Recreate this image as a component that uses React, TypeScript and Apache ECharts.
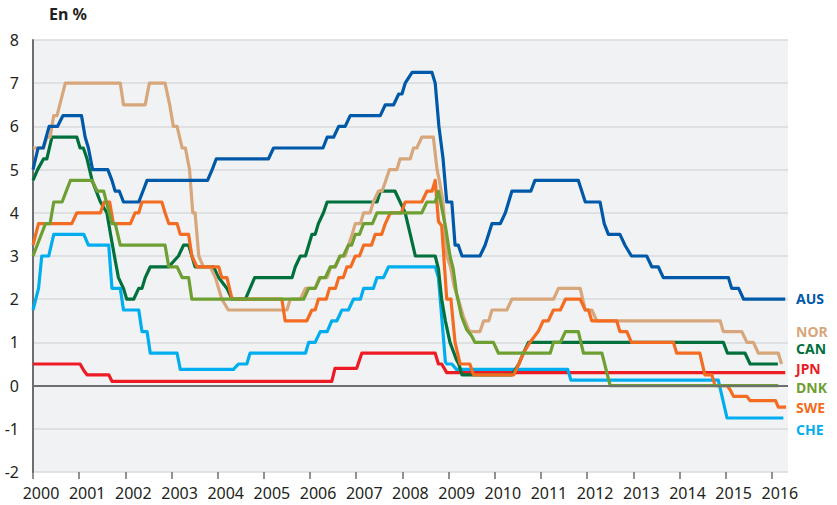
import React, { useEffect, useRef } from "react";
import * as echarts from "echarts";

const FONT = "'Noto Sans', 'Open Sans', sans-serif";

const YEARS = [2000, 2001, 2002, 2003, 2004, 2005, 2006, 2007, 2008, 2009, 2010, 2011, 2012, 2013, 2014, 2015, 2016];

const AUS: [number, number][] = [
  [2000.0, 5.0], [2000.11, 5.5], [2000.22, 5.5], [2000.35, 6.0], [2000.53, 6.0], [2000.65, 6.25], [2001.05, 6.25],
  [2001.13, 5.75], [2001.2, 5.5], [2001.29, 5.0], [2001.62, 5.0], [2001.71, 4.75], [2001.78, 4.5], [2001.87, 4.5],
  [2001.96, 4.25], [2002.29, 4.25], [2002.38, 4.5], [2002.47, 4.75], [2003.78, 4.75], [2003.88, 5.0], [2003.97, 5.25],
  [2005.1, 5.25], [2005.21, 5.5], [2006.28, 5.5], [2006.37, 5.75], [2006.51, 5.75], [2006.62, 6.0], [2006.76, 6.0],
  [2006.87, 6.25], [2007.52, 6.25], [2007.63, 6.5], [2007.81, 6.5], [2007.92, 6.75], [2007.99, 6.75], [2008.06, 7.0],
  [2008.21, 7.25], [2008.64, 7.25], [2008.71, 7.0], [2008.79, 6.0], [2008.88, 5.25], [2008.96, 4.25], [2009.07, 4.25],
  [2009.14, 3.25], [2009.21, 3.25], [2009.29, 3.0], [2009.68, 3.0], [2009.79, 3.25], [2009.94, 3.75], [2010.12, 3.75],
  [2010.23, 4.0], [2010.3, 4.25], [2010.37, 4.5], [2010.78, 4.5], [2010.87, 4.75], [2011.81, 4.75], [2011.96, 4.25],
  [2012.28, 4.25], [2012.37, 3.75], [2012.46, 3.5], [2012.71, 3.5], [2012.82, 3.25], [2012.96, 3.0], [2013.29, 3.0],
  [2013.4, 2.75], [2013.54, 2.75], [2013.65, 2.5], [2015.06, 2.5], [2015.13, 2.25], [2015.28, 2.25], [2015.39, 2.0],
  [2016.29, 2.0],
];

const NOR: [number, number][] = [
  [2000.0, 5.5], [2000.23, 5.5], [2000.3, 5.75], [2000.37, 5.75], [2000.45, 6.25], [2000.52, 6.25], [2000.7, 7.0],
  [2001.89, 7.0], [2001.96, 6.5], [2002.43, 6.5], [2002.52, 7.0], [2002.86, 7.0], [2002.96, 6.5], [2003.04, 6.0],
  [2003.12, 6.0], [2003.23, 5.5], [2003.3, 5.5], [2003.39, 5.0], [2003.46, 4.0], [2003.51, 4.0], [2003.59, 3.0],
  [2003.69, 2.75], [2003.84, 2.75], [2003.95, 2.5], [2004.09, 2.0], [2004.23, 1.75], [2005.5, 1.75], [2005.57, 2.0],
  [2005.79, 2.0], [2005.9, 2.25], [2006.11, 2.25], [2006.2, 2.5], [2006.37, 2.5], [2006.45, 2.75], [2006.55, 2.75],
  [2006.65, 3.0], [2006.76, 3.0], [2006.83, 3.25], [2006.91, 3.5], [2006.98, 3.75], [2007.09, 3.75], [2007.16, 4.0],
  [2007.3, 4.0], [2007.37, 4.25], [2007.48, 4.5], [2007.56, 4.5], [2007.64, 4.75], [2007.72, 5.0], [2007.88, 5.0],
  [2007.95, 5.25], [2008.17, 5.25], [2008.24, 5.5], [2008.31, 5.5], [2008.42, 5.75], [2008.67, 5.75], [2008.75, 5.0],
  [2008.8, 4.75], [2008.88, 4.25], [2008.96, 3.0], [2009.04, 2.75], [2009.12, 2.3], [2009.21, 2.0], [2009.32, 1.6],
  [2009.43, 1.3], [2009.47, 1.25], [2009.68, 1.25], [2009.76, 1.5], [2009.87, 1.5], [2009.94, 1.75], [2010.26, 1.75],
  [2010.37, 2.0], [2011.27, 2.0], [2011.38, 2.25], [2011.85, 2.25], [2011.96, 1.75], [2012.1, 1.75], [2012.21, 1.5],
  [2014.88, 1.5], [2014.95, 1.25], [2015.35, 1.25], [2015.46, 1.0], [2015.6, 1.0], [2015.71, 0.75], [2016.14, 0.75],
  [2016.21, 0.5],
];

const CAN: [number, number][] = [
  [2000.0, 4.75], [2000.1, 5.0], [2000.23, 5.25], [2000.3, 5.25], [2000.41, 5.75], [2000.95, 5.75], [2001.02, 5.5],
  [2001.09, 5.5], [2001.17, 5.25], [2001.28, 4.75], [2001.37, 4.5], [2001.46, 4.25], [2001.6, 4.0], [2001.68, 3.5],
  [2001.78, 2.9], [2001.85, 2.5], [2001.96, 2.25], [2002.03, 2.0], [2002.18, 2.0], [2002.29, 2.25], [2002.36, 2.25],
  [2002.43, 2.5], [2002.54, 2.75], [2002.94, 2.75], [2003.15, 3.0], [2003.26, 3.25], [2003.37, 3.25], [2003.44, 3.0],
  [2003.51, 2.75], [2003.91, 2.75], [2004.02, 2.5], [2004.2, 2.25], [2004.31, 2.0], [2004.6, 2.0], [2004.7, 2.25],
  [2004.8, 2.5], [2005.61, 2.5], [2005.68, 2.75], [2005.79, 3.0], [2005.9, 3.0], [2005.97, 3.25], [2006.04, 3.5],
  [2006.11, 3.5], [2006.18, 3.75], [2006.29, 4.0], [2006.37, 4.25], [2007.45, 4.25], [2007.52, 4.5], [2007.84, 4.5],
  [2007.95, 4.25], [2008.06, 4.0], [2008.17, 3.5], [2008.28, 3.0], [2008.71, 3.0], [2008.78, 2.7], [2008.85, 2.0],
  [2008.93, 1.5], [2009.03, 1.0], [2009.1, 0.8], [2009.17, 0.6], [2009.22, 0.5], [2009.29, 0.25], [2010.37, 0.25],
  [2010.52, 0.5], [2010.62, 0.75], [2010.73, 1.0], [2014.95, 1.0], [2015.04, 0.75], [2015.42, 0.75], [2015.53, 0.5],
  [2016.13, 0.5],
];

const JPN: [number, number][] = [
  [2000.0, 0.5], [2001.02, 0.5], [2001.1, 0.35], [2001.17, 0.25], [2001.64, 0.25], [2001.71, 0.1], [2006.47, 0.1],
  [2006.54, 0.4], [2007.01, 0.4], [2007.12, 0.75], [2008.71, 0.75], [2008.78, 0.5], [2008.85, 0.5], [2008.96, 0.3],
  [2016.29, 0.3],
];

const DNK: [number, number][] = [
  [2000.0, 3.0], [2000.27, 3.75], [2000.37, 3.75], [2000.45, 4.25], [2000.63, 4.25], [2000.81, 4.75], [2001.28, 4.75],
  [2001.39, 4.5], [2001.53, 4.5], [2001.71, 3.75], [2001.78, 3.75], [2001.89, 3.25], [2002.86, 3.25], [2002.94, 2.75],
  [2003.12, 2.75], [2003.23, 2.5], [2003.37, 2.5], [2003.44, 2.0], [2005.86, 2.0], [2005.97, 2.25], [2006.11, 2.25],
  [2006.22, 2.5], [2006.33, 2.5], [2006.44, 2.75], [2006.54, 2.75], [2006.65, 3.0], [2006.72, 3.0], [2006.83, 3.25],
  [2006.9, 3.25], [2006.98, 3.5], [2007.07, 3.5], [2007.16, 3.75], [2007.35, 3.75], [2007.45, 4.0], [2008.42, 4.0],
  [2008.53, 4.25], [2008.71, 4.25], [2008.78, 4.5], [2008.93, 3.7], [2009.03, 3.0], [2009.1, 2.7], [2009.17, 2.15],
  [2009.28, 1.6], [2009.39, 1.3], [2009.5, 1.15], [2009.57, 1.0], [2009.97, 1.0], [2010.08, 0.75], [2011.2, 0.75],
  [2011.27, 1.0], [2011.42, 1.0], [2011.53, 1.25], [2011.81, 1.25], [2011.92, 0.75], [2012.32, 0.75], [2012.45, 0.2],
  [2012.5, 0.0], [2016.14, 0.0],
];

const SWE: [number, number][] = [
  [2000.0, 3.25], [2000.12, 3.75], [2000.84, 3.75], [2000.95, 4.0], [2001.46, 4.0], [2001.54, 4.25], [2001.66, 4.25],
  [2001.74, 3.75], [2002.11, 3.75], [2002.21, 4.0], [2002.29, 4.0], [2002.36, 4.25], [2002.79, 4.25], [2002.86, 4.0],
  [2002.94, 3.75], [2003.12, 3.75], [2003.19, 3.5], [2003.37, 3.5], [2003.44, 3.0], [2003.55, 2.75], [2004.02, 2.75],
  [2004.09, 2.5], [2004.2, 2.5], [2004.31, 2.0], [2005.39, 2.0], [2005.46, 1.5], [2005.93, 1.5], [2006.04, 1.75],
  [2006.11, 1.75], [2006.18, 2.0], [2006.35, 2.0], [2006.42, 2.25], [2006.55, 2.25], [2006.62, 2.5], [2006.72, 2.5],
  [2006.8, 2.75], [2006.88, 2.75], [2006.98, 3.0], [2007.07, 3.0], [2007.16, 3.25], [2007.33, 3.25], [2007.41, 3.5],
  [2007.55, 3.5], [2007.63, 3.75], [2007.74, 4.0], [2007.98, 4.0], [2008.06, 4.25], [2008.42, 4.25], [2008.53, 4.5],
  [2008.64, 4.5], [2008.71, 4.75], [2008.78, 3.8], [2008.85, 3.7], [2008.96, 2.0], [2009.05, 2.0], [2009.14, 1.0],
  [2009.25, 0.5], [2009.46, 0.5], [2009.54, 0.25], [2010.41, 0.25], [2010.52, 0.5], [2010.62, 0.75], [2010.76, 1.0],
  [2010.94, 1.25], [2011.05, 1.5], [2011.16, 1.5], [2011.27, 1.75], [2011.42, 1.75], [2011.53, 2.0], [2011.85, 2.0],
  [2011.96, 1.75], [2012.03, 1.75], [2012.1, 1.5], [2012.64, 1.5], [2012.71, 1.25], [2012.86, 1.25], [2012.96, 1.0],
  [2013.87, 1.0], [2013.94, 0.75], [2014.44, 0.75], [2014.55, 0.25], [2014.7, 0.25], [2014.77, 0.0], [2015.03, 0.0],
  [2015.1, -0.1], [2015.17, -0.25], [2015.46, -0.25], [2015.53, -0.35], [2016.08, -0.35], [2016.14, -0.5],
  [2016.31, -0.5],
];

const CHE: [number, number][] = [
  [2000.0, 1.75], [2000.12, 2.25], [2000.19, 3.0], [2000.34, 3.0], [2000.45, 3.5], [2001.1, 3.5], [2001.2, 3.25],
  [2001.64, 3.25], [2001.71, 2.25], [2001.89, 2.25], [2001.96, 1.75], [2002.29, 1.75], [2002.36, 1.25], [2002.47, 1.25],
  [2002.54, 0.75], [2003.12, 0.75], [2003.19, 0.375], [2004.34, 0.375], [2004.45, 0.5], [2004.63, 0.5], [2004.7, 0.75],
  [2005.9, 0.75], [2005.97, 1.0], [2006.11, 1.0], [2006.22, 1.25], [2006.37, 1.25], [2006.47, 1.5], [2006.58, 1.5],
  [2006.69, 1.75], [2006.83, 1.75], [2006.94, 2.0], [2007.09, 2.0], [2007.16, 2.25], [2007.37, 2.25], [2007.45, 2.5],
  [2007.59, 2.5], [2007.7, 2.75], [2008.71, 2.75], [2008.78, 2.5], [2008.85, 1.6], [2008.93, 0.55], [2008.96, 0.5],
  [2009.07, 0.5], [2009.17, 0.375], [2011.58, 0.375], [2011.65, 0.125], [2014.84, 0.125], [2015.03, -0.75],
  [2016.25, -0.75],
];

const SERIES_NAMES = ["JPN", "CHE", "CAN", "NOR", "SWE", "DNK", "AUS"];
const SERIES_DATA = [JPN, CHE, CAN, NOR, SWE, DNK, AUS];
const COLORS: Record<string, string> = {
  AUS: "#0059a8",
  NOR: "#d7a67b",
  CAN: "#00703c",
  JPN: "#ed1c24",
  DNK: "#6e9f32",
  SWE: "#f36c21",
  CHE: "#00aeef",
};

const END_LABELS = ["AUS", "NOR", "CAN", "JPN", "DNK", "SWE", "CHE"];
const END_LABEL_Y = [298, 331, 348.5, 368, 387.5, 407.5, 429];

export default function App() {
  const ref = useRef<HTMLDivElement>(null);
  useEffect(() => {
    if (!ref.current) return;
    const chart = echarts.init(ref.current, undefined, { renderer: "svg" });
    const series: any[] = SERIES_NAMES.map((name, i) => {
      const s: any = {
        name,
        type: "line",
        data: SERIES_DATA[i],
        showSymbol: false,
        symbol: "none",
        lineStyle: { color: COLORS[name], width: 3.2, join: "round" },
        itemStyle: { color: COLORS[name] },
        emphasis: { disabled: true },
      };
      if (i === 0) {
        s.markLine = {
          silent: true,
          symbol: ["none", "none"],
          label: { show: false },
          lineStyle: { color: "#6d6e71", width: 2, type: "solid" },
          data: [{ yAxis: 0 }],
        };
      }
      return s;
    });
    chart.setOption({
      animation: false,
      grid: {
        left: 33,
        right: 49,
        top: 40,
        bottom: 33,
        show: true,
        backgroundColor: "#f1f2f4",
        borderWidth: 0,
      },
      xAxis: {
        type: "value",
        min: 2000,
        max: 2016.35,
        interval: 1,
        axisLine: { show: false, onZero: false },
        axisTick: {
          show: true,
          length: 7,
          customValues: YEARS,
          lineStyle: { color: "#6d6e71", width: 1.5 },
        },
        axisLabel: {
          customValues: YEARS,
          formatter: (v: number) => String(Math.round(v)),
          fontSize: 16,
          fontFamily: FONT,
          color: "#231f20",
          margin: 13,
          padding: [0, 0, 0, 16],
        },
        splitLine: { show: false },
      },
      yAxis: {
        type: "value",
        min: -2,
        max: 8,
        interval: 1,
        axisLine: { show: true, lineStyle: { color: "#6d6e71", width: 2 } },
        axisTick: { show: false },
        axisLabel: { fontSize: 16, fontFamily: FONT, color: "#231f20", margin: 14 },
        splitLine: { lineStyle: { color: "#d9dadd", width: 1.5 } },
      },
      graphic: [
        {
          type: "text",
          left: 49,
          top: 6,
          style: { text: "En %", font: `bold 16px ${FONT}`, fill: "#231f20" },
        },
        ...END_LABELS.map((name, i) => ({
          type: "text",
          x: 796,
          y: END_LABEL_Y[i],
          style: {
            text: name,
            font: `bold 14px ${FONT}`,
            fill: COLORS[name],
            textVerticalAlign: "middle",
            verticalAlign: "middle",
          },
        })),
      ],
      series,
    });
    return () => chart.dispose();
  }, []);
  return (
    <div
      ref={ref}
      style={{ position: "absolute", left: 0, top: 0, width: 837, height: 505 }}
    />
  );
}
